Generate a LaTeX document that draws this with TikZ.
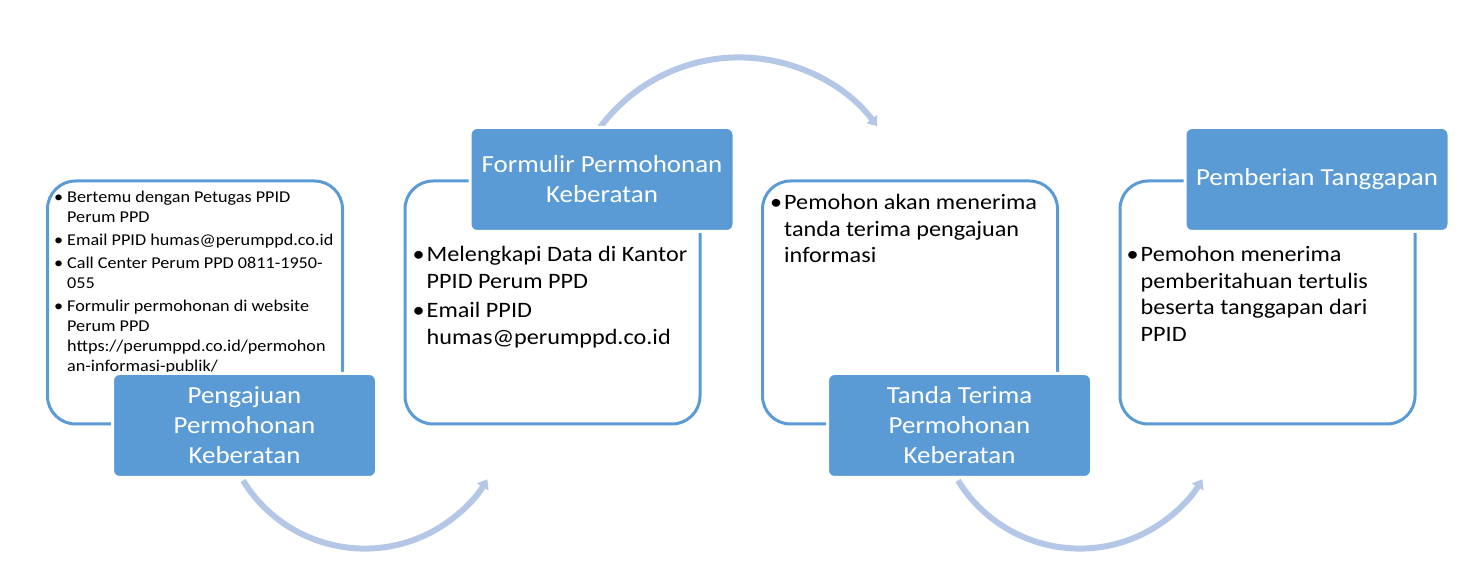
\documentclass[tikz,border=0pt]{standalone}
\usepackage{fontspec}
\setmainfont{Carlito}[FakeStretch=1.1]
\usetikzlibrary{arrows.meta, positioning}
\definecolor{BoxBlue}{HTML}{5B9BD5}
\definecolor{ArcBlue}{HTML}{B4C7E7}
\newcommand{\bitem}[1][14pt]{\makebox[#1][l]{\textbullet}}
\newcommand{\bcont}[1][14pt]{\hspace*{#1}}
\tikzset{
  % Box styles
  contentbox/.style={rectangle, rounded corners=28pt, draw=BoxBlue, line width=3pt, minimum width=295pt, minimum height=243pt},
  labelbox/.style={rectangle, rounded corners=7pt, draw=white, line width=3pt, fill=BoxBlue, text=white, minimum width=264pt, minimum height=104pt, font=\fontsize{24.5}{30}\selectfont, align=center},
  % Text styles
  smalltext/.style={anchor=north west, inner sep=0pt, align=left, font=\fontsize{16.5}{20}\selectfont},
  bodytext/.style={anchor=north west, inner sep=0pt, align=left, font=\fontsize{22}{26.5}\selectfont},
  % Arrow styles
  flowarrow/.style={-{Triangle[length=9pt, width=13pt]}, line width=6pt, ArcBlue}
}
\begin{document}
\begin{tikzpicture}[x=1pt, y=1pt]
  \useasboundingbox (0,0) rectangle (1476,586);

  % Content boxes
  \node[contentbox] (c1) at (195,283.5) {};
  \node[contentbox, right=59.5pt of c1] (c2) {};
  \node[contentbox, right=59.5pt of c2] (c3) {};
  \node[contentbox, right=59.5pt of c3] (c4) {};

  % Curved arrows
  \path (c1.south) ++(48,-55) coordinate (a1);
  \path (c2.north) ++(47.5,52) coordinate (a2);
  \path (c3.south) ++(48,-55) coordinate (a3);
  \draw[flowarrow] (a1) arc[start angle=211.6, end angle=329, radius=143];
  \draw[flowarrow] (a2) arc[start angle=143.5, end angle=37, radius=173];
  \draw[flowarrow] (a3) arc[start angle=211.6, end angle=329, radius=143];

  % Bullet texts
  \node[smalltext] (t1) at ([xshift=8pt, yshift=-11pt]c1.north west) {%
    \bitem[13pt]Bertemu dengan Petugas PPID\\
    \bcont[13pt]Perum PPD\\[3pt]
    \bitem[13pt]Email PPID humas@perumppd.co.id\\[3pt]
    \bitem[13pt]Call Center Perum PPD 0811-1950-\\
    \bcont[13pt]055\\[3pt]
    \bitem[13pt]Formulir permohonan di website\\
    \bcont[13pt]Perum PPD\\
    \bcont[13pt]https://perumppd.co.id/permohon\\
    \bcont[13pt]an-informasi-publik/};
  \node[bodytext] (t2) at ([xshift=9pt, yshift=-67pt]c2.north west) {%
    \bitem Melengkapi Data di Kantor\\
    \bcont PPID Perum PPD\\[3pt]
    \bitem Email PPID\\
    \bcont humas@perumppd.co.id};
  \node[bodytext] (t3) at ([xshift=9pt, yshift=-15pt]c3.north west) {%
    \bitem Pemohon akan menerima\\
    \bcont tanda terima pengajuan\\
    \bcont informasi};
  \node[bodytext] (t4) at ([xshift=8pt, yshift=-67pt]c4.north west) {%
    \bitem Pemohon menerima\\
    \bcont pemberitahuan tertulis\\
    \bcont beserta tanggapan dari\\
    \bcont PPID};

  % Step labels
  \node[labelbox] (l1) at ([xshift=49.5pt]c1.south) {Pengajuan\\Permohonan\\Keberatan};
  \node[labelbox] (l2) at ([xshift=49.5pt]c2.north) {Formulir Permohonan\\Keberatan};
  \node[labelbox] (l3) at ([xshift=49.5pt]c3.south) {Tanda Terima\\Permohonan\\Keberatan};
  \node[labelbox] (l4) at ([xshift=49.5pt]c4.north) {Pemberian Tanggapan};
\end{tikzpicture}
\end{document}
